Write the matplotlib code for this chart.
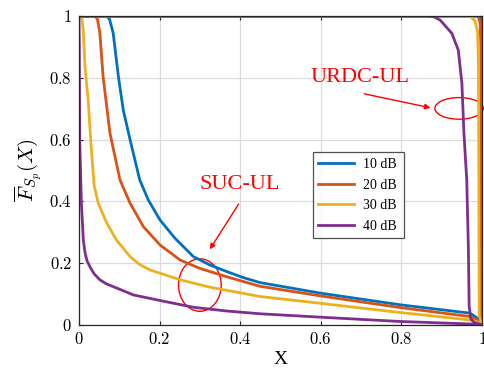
import matplotlib.pyplot as plt
import numpy as np
from matplotlib.patches import Ellipse
from matplotlib.ticker import FuncFormatter

plt.rcParams['font.family'] = ['Liberation Serif', 'DejaVu Serif']
plt.rcParams['mathtext.fontset'] = 'cm'

labels = ['10 dB', '20 dB', '30 dB', '40 dB']
colors = ['#0072BD', '#D95319', '#EDB120', '#7E2F8E']

# SUC-UL curves
suc_x = [
    [0, 0.069, 0.076, 0.085, 0.098, 0.110, 0.127, 0.151, 0.172, 0.201, 0.238, 0.284,
     0.325, 0.366, 0.408, 0.449, 0.598, 0.797, 0.970, 0.995, 1.0],
    [0, 0.040, 0.046, 0.052, 0.060, 0.077, 0.102, 0.127, 0.160, 0.201, 0.251, 0.300,
     0.366, 0.449, 0.598, 0.797, 0.970, 0.995, 1.0],
    [0, 0.007, 0.011, 0.015, 0.023, 0.031, 0.038, 0.048, 0.069, 0.093, 0.127, 0.150,
     0.176, 0.251, 0.325, 0.449, 0.598, 0.797, 0.970, 0.995, 1.0],
    [0, 0.001, 0.002, 0.006, 0.011, 0.015, 0.020, 0.027, 0.038, 0.052, 0.068, 0.085,
     0.135, 0.201, 0.284, 0.366, 0.449, 0.598, 0.797, 0.970, 1.0],
]
suc_y = [
    [1, 1, 0.99, 0.945, 0.804, 0.696, 0.599, 0.469, 0.405, 0.340, 0.281, 0.221,
     0.194, 0.173, 0.153, 0.137, 0.103, 0.065, 0.038, 0.016, 0.005],
    [1, 1, 0.99, 0.945, 0.804, 0.621, 0.469, 0.394, 0.318, 0.259, 0.210, 0.183,
     0.156, 0.125, 0.094, 0.056, 0.027, 0.011, 0.003],
    [1, 1, 0.95, 0.838, 0.728, 0.566, 0.45, 0.394, 0.330, 0.275, 0.221, 0.196,
     0.178, 0.146, 0.122, 0.092, 0.070, 0.040, 0.016, 0.007, 0.002],
    [1, 0.9, 0.6, 0.40, 0.275, 0.235, 0.208, 0.189, 0.165, 0.146, 0.133, 0.124,
     0.097, 0.079, 0.057, 0.045, 0.036, 0.025, 0.011, 0.003, 0.0],
]

# URDC-UL curves
urdc_x = [
    [0, 0.997, 0.999, 0.9995, 1.0],
    [0, 0.990, 0.995, 0.997, 0.998, 1.0],
    [0, 0.970, 0.982, 0.989, 0.991, 0.993, 1.0],
    [0, 0.863, 0.880, 0.896, 0.925, 0.941, 0.950, 0.955, 0.962, 0.966, 0.968, 0.972,
     0.980, 1.0],
]
urdc_y = [
    [1, 1, 0.98, 0.5, 0],
    [1, 1, 0.98, 0.9, 0.03, 0],
    [1, 1, 0.985, 0.95, 0.85, 0.03, 0.0],
    [1, 1, 0.998, 0.987, 0.944, 0.890, 0.782, 0.621, 0.469, 0.25, 0.06, 0.02,
     0.008, 0],
]

fig = plt.figure(figsize=(4.84, 3.73), dpi=100)
ax = fig.add_axes([0.163, 0.129, 0.833, 0.828])

lw = 2.0
for i in range(4):
    ax.plot(suc_x[i], suc_y[i], color=colors[i], lw=lw, label=labels[i])
for i in range(4):
    ax.plot(urdc_x[i], urdc_y[i], color=colors[i], lw=lw)

ax.set_xlim(0, 1)
ax.set_ylim(0, 1)
ticks = np.arange(0, 1.01, 0.2)
ax.set_xticks(ticks)
ax.set_yticks(ticks)
fmt = FuncFormatter(lambda v, p: r'$%g$' % round(v, 1))
ax.xaxis.set_major_formatter(fmt)
ax.yaxis.set_major_formatter(fmt)
ax.tick_params(direction='in', length=3, labelsize=12, color='#262626',
               top=True, right=True, pad=5)
ax.grid(True, color='#dcdcdc', lw=0.9)
ax.set_axisbelow(True)
for s in ax.spines.values():
    s.set_color('#262626')
    s.set_linewidth(0.9)

ax.set_xlabel('X', fontsize=14, labelpad=2)
ax.set_ylabel(r'$\overline{F}_{S_p}(X)$', fontsize=15, labelpad=4)

leg = ax.legend(loc='lower left', bbox_to_anchor=(0.58, 0.28, 0.226, 0.29),
                mode='expand', fontsize=10, frameon=True, fancybox=False,
                edgecolor='#262626', handlelength=2.6, handletextpad=0.6,
                labelspacing=0.55, borderaxespad=0)
leg.get_frame().set_linewidth(0.9)

# annotations
ax.text(0.697, 0.80, 'URDC-UL', color='red', fontsize=16, ha='center', va='center')
ax.annotate('', xy=(0.879, 0.701), xytext=(0.701, 0.750),
            arrowprops=dict(arrowstyle='-|>', color='red', lw=1.0, mutation_scale=8))
ax.add_patch(Ellipse((0.943, 0.701), 0.12, 0.070, fill=False, ec='red', lw=1.0,
                     clip_on=False))

ax.text(0.40, 0.455, 'SUC-UL', color='red', fontsize=16, ha='center', va='center')
ax.annotate('', xy=(0.321, 0.237), xytext=(0.400, 0.399),
            arrowprops=dict(arrowstyle='-|>', color='red', lw=1.0, mutation_scale=8))
ax.add_patch(Ellipse((0.300, 0.129), 0.106, 0.170, fill=False, ec='red', lw=1.0))

fig.savefig('out.png', dpi=100)
